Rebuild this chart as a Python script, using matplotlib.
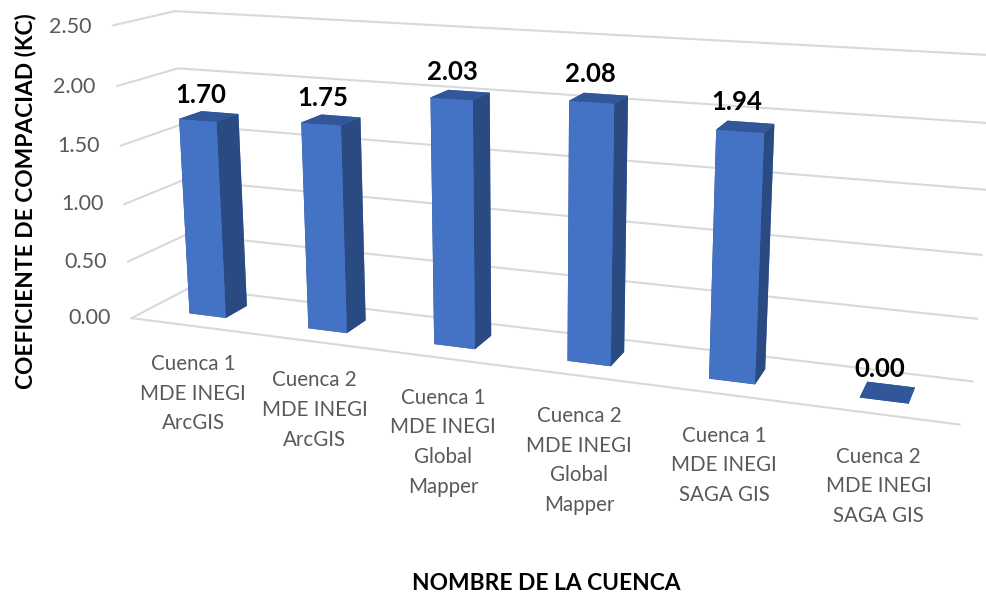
import numpy as np
import matplotlib
matplotlib.use('Agg')
from matplotlib import pyplot as plt
from mpl_toolkits.mplot3d import proj3d

plt.rcParams['font.family'] = ['Lato', 'DejaVu Sans']

# data
categories = ['Cuenca 1\nMDE INEGI\nArcGIS', 'Cuenca 2\nMDE INEGI\nArcGIS',
              'Cuenca 1\nMDE INEGI\nGlobal\nMapper', 'Cuenca 2\nMDE INEGI\nGlobal\nMapper',
              'Cuenca 1\nMDE INEGI\nSAGA GIS', 'Cuenca 2\nMDE INEGI\nSAGA GIS']
kc_values = [1.70, 1.75, 2.03, 2.08, 1.94, 0.00]
y_ticks = [0.0, 0.5, 1.0, 1.5, 2.0, 2.5]

# camera, found by fitting against the chart corners
ELEV, AZIM = 14.152, -69.64
ASPECT = (2.743, 0.3686, 1.0)
ZOOM = 3.0008
SCALE, CX, CY = 1636.25, 528.49, 197.42   # pixels per view unit, view origin in pixels
GAP_X, GAP_D = 0.344, 0.308

W, H = 986, 592
GRID = '#D9D9D9'
TICK = '#595959'
FRONT, TOP, SIDE = '#4472C4', '#31569A', '#2A4A82'

fig = plt.figure(figsize=(W / 100, H / 100), dpi=100)
ax = fig.add_subplot(projection='3d', computed_zorder=False)
ax.set_axis_off()

# axes box so that the view units land on the right pixels
x0, y0, x1, y1 = ax.viewLim.extents
ax.set_position([(CX + SCALE * x0) / W, 1 - (CY - SCALE * y0) / H,
                 SCALE * (x1 - x0) / W, SCALE * (y1 - y0) / H])

# gridlines: left wall then back wall, plus the front edge of the floor
for t in y_ticks:
    ax.plot([0, 0, 6], [0, 1, 1], [t, t, t], color=GRID, lw=1.5, clip_on=False, zorder=1)
ax.plot([0, 6], [0, 0], [0, 0], color=GRID, lw=1.5, clip_on=False, zorder=1)

for i, v in enumerate(kc_values):
    # face order in bar3d: -z, +z, -y, +y, -x, +x
    bar = ax.bar3d(i + GAP_X, GAP_D, 0, 1 - 2 * GAP_X, 1 - 2 * GAP_D, v, shade=False,
                   color=[TOP, TOP, FRONT, FRONT, SIDE, SIDE], zorder=2 + i)
    bar.set_clip_on(False)

ax.set_xlim(0, 6)
ax.set_ylim(0, 1)
ax.set_zlim(0, 2.5)
ax.view_init(ELEV, AZIM, 0)
ax.set_proj_type('persp', focal_length=1.0)
ax.set_box_aspect(ASPECT, zoom=ZOOM)


def label(x, y, z, s, **kw):
    # place text flat on the screen at the projected 3d spot
    u, v, _ = proj3d.proj_transform(x, y, z, ax.get_proj())
    ax.text2D(u, v, s, transform=ax.transData, zorder=20, **kw)


for i, v in enumerate(kc_values):
    label(i + 0.44, 0.5, v + 0.18, f'{v:.2f}', ha='center', va='center',
          fontsize=18.5, fontweight='bold', color='black')

for t in y_ticks:
    label(-0.18, 0, t - 0.02, f'{t:.2f}', ha='right', va='center', fontsize=15.5, color=TICK)

for i, c in enumerate(categories):
    label(i + 0.515, 0, -0.25, c, ha='center', va='top', fontsize=14.8, color=TICK, linespacing=1.6)

fig.text(26 / W, 1 - 201 / H, 'COEFICIENTE DE COMPACIAD (KC)', rotation=90, ha='center', va='center',
         fontsize=16.4, fontweight='bold', color='black')
fig.text(546 / W, 1 - 583 / H, 'NOMBRE DE LA CUENCA', ha='center', va='center',
         fontsize=16.4, fontweight='bold', color='black')

fig.savefig('out.png', dpi=100)
